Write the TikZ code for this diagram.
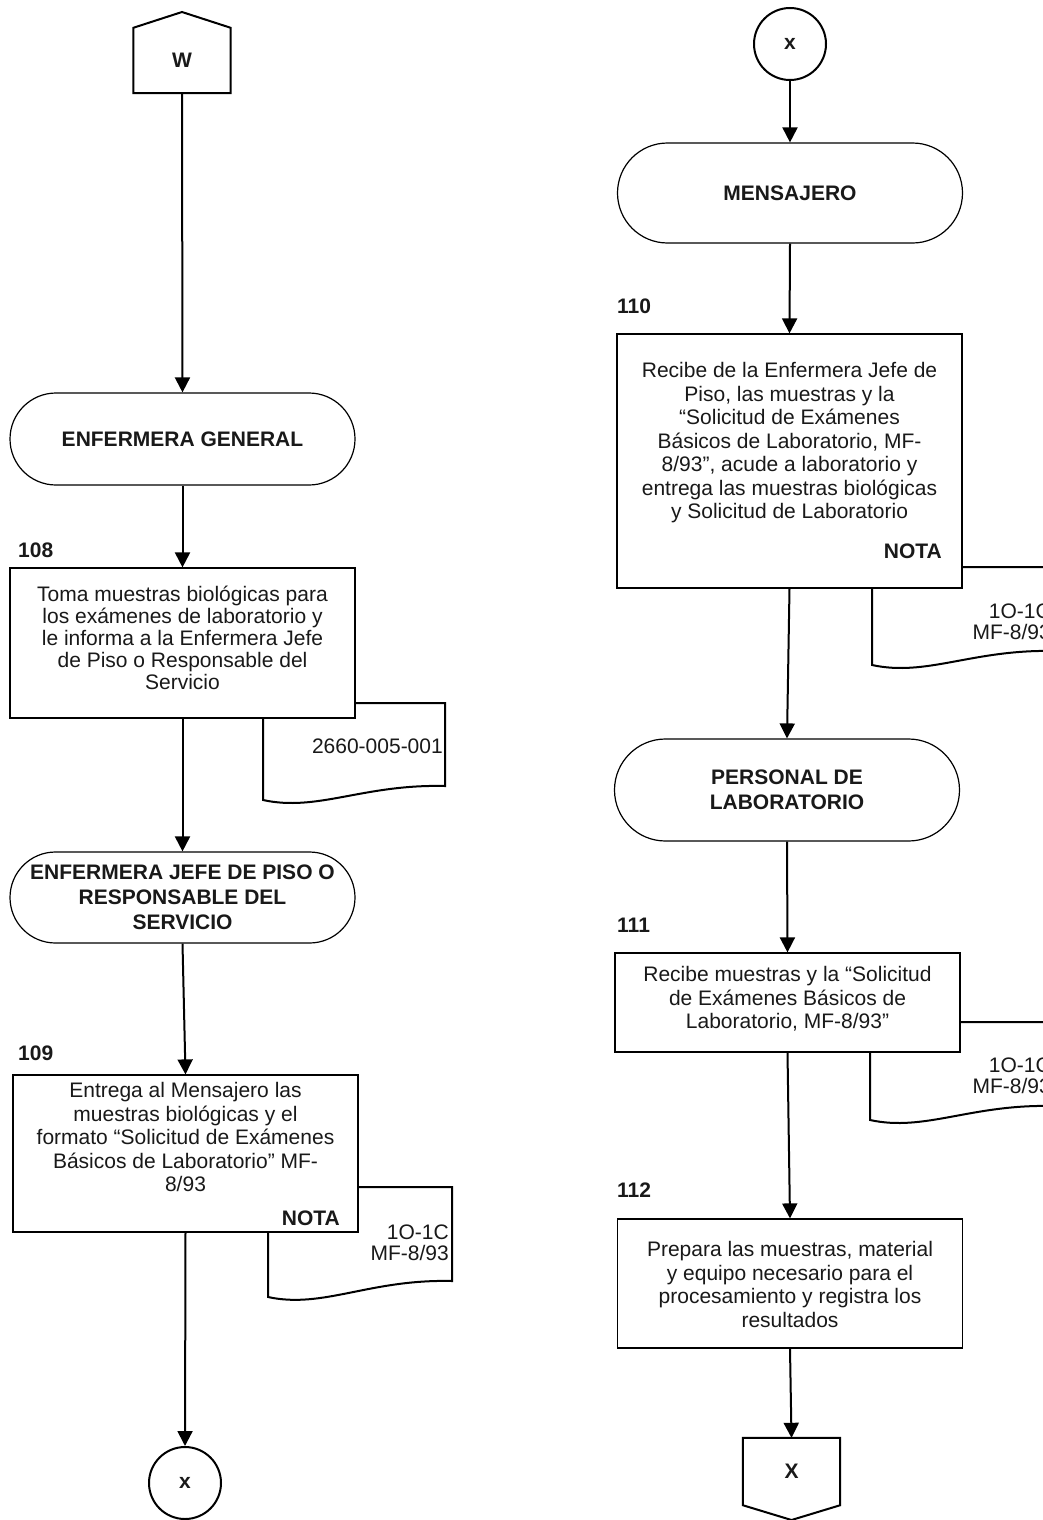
\documentclass[tikz,border=0pt]{standalone}
\usepackage{fontspec}
\setmainfont{Liberation Sans}
\usetikzlibrary{arrows.meta}

% document symbol: left, top, right, bottom-left, bottom-right
\newcommand\docshape[5]{%
  \draw[docsym] (#1,#2) -- (#3,#2) -- (#3,#5)
    .. controls ({#1+0.55*(#3-#1)},{#5-2}) and ({#1+0.3*(#3-#1)},{#4+12}) .. (#1,#4) -- cycle;}

\begin{document}
\begin{tikzpicture}[x=1pt,y=-1pt,
  every node/.style={font=\fontsize{21}{23.5}\selectfont, text=black!90},
  procbox/.style={draw, line width=1.2pt, fill=white, minimum width=345pt, inner sep=0pt},
  term/.style={draw, line width=1.2pt, fill=white, minimum width=345pt, align=center,
    font=\fontsize{21}{25}\selectfont\bfseries},
  conn/.style={draw, line width=2pt, circle, minimum size=72pt, inner sep=0pt,
    font=\fontsize{21}{24}\selectfont\bfseries},
  offpage/.style={minimum width=97pt, inner sep=0pt, font=\fontsize{21}{24}\selectfont\bfseries},
  flow/.style={line width=2pt, -{Triangle[width=15pt,length=15pt]}},
  docsym/.style={line width=2pt, fill=white},
  stepnum/.style={font=\fontsize{21}{24}\selectfont\bfseries, anchor=west, inner sep=0pt},
  body/.style={align=center, inner sep=0pt},
  tight/.style={font=\fontsize{21}{22}\selectfont},
  nota/.style={font=\fontsize{21}{24}\selectfont\bfseries, anchor=east, inner sep=0pt},
  doctext/.style={anchor=east, align=right, inner sep=0pt, font=\fontsize{21}{21.5}\selectfont},
]
\useasboundingbox (0,0) rectangle (1043,1520);

% ---------------- documents (behind the process boxes) ----------------
\docshape{263}{703}{445}{800}{786}
\docshape{268}{1187}{452}{1297}{1281}
\docshape{872}{567}{1055}{665}{651}
\docshape{870}{1022}{1053}{1120}{1106}

% ---------------- left column ----------------
\node[offpage, minimum height=65pt] (w) at (182,60.5) {W};
\draw[line width=2pt] (w.south west) -- (w.north west) -- (182,12) -- (w.north east) -- (w.south east) -- cycle;

\node[term, minimum height=92pt, rounded corners=46pt] (eg) at (182.5,439) {ENFERMERA GENERAL};

\node[stepnum] (n108) at (18,550) {108};
\node[procbox, minimum height=150pt] (b108) at (182.5,643) {};
\node[body, tight] (t108) at (182.5,638) {Toma muestras biológicas para\\los exámenes de laboratorio y\\le informa a la Enfermera Jefe\\de Piso o Responsable del\\Servicio};
\node[doctext] (d108) at (443,746) {2660-005-001};

\node[term, minimum height=91pt, rounded corners=45.5pt] (ej) at (182.5,897.5) {ENFERMERA JEFE DE PISO O\\RESPONSABLE DEL\\SERVICIO};

\node[stepnum] (n109) at (18,1053) {109};
\node[procbox, minimum height=157pt] (b109) at (185.5,1153.5) {};
\node[body] (t109) at (185.5,1137) {Entrega al Mensajero las\\muestras biológicas y el\\formato “Solicitud de Exámenes\\Básicos de Laboratorio” MF-\\8/93};
\node[nota] (nota109) at (340,1218) {NOTA};
\node[doctext] (d109) at (449,1243) {1O-1C\\MF-8/93};

\node[conn] (xb) at (185,1483) {x};

% ---------------- right column ----------------
\node[conn] (xt) at (790,44) {x};

\node[term, minimum height=100pt, rounded corners=50pt] (men) at (790,193) {MENSAJERO};

\node[stepnum] (n110) at (617,306) {110};
\node[procbox, minimum height=254pt] (b110) at (789.5,461) {};
\node[body] (t110) at (789.5,443) {Recibe de la Enfermera Jefe de\\Piso, las muestras y la\\“Solicitud de Exámenes\\Básicos de Laboratorio, MF-\\8/93”, acude a laboratorio y\\entrega las muestras biológicas\\y Solicitud de Laboratorio};
\node[nota] (nota110) at (942,551) {NOTA};
\node[doctext] (d110) at (1051,622) {1O-1C\\MF-8/93};

\node[term, minimum height=102pt, rounded corners=51pt] (pl) at (787,790) {PERSONAL DE\\LABORATORIO};

\node[stepnum] (n111) at (617,925) {111};
\node[procbox, minimum height=99pt] (b111) at (787.5,1002.5) {};
\node[body] (t111) at (787.5,999) {Recibe muestras y la “Solicitud\\de Exámenes Básicos de\\Laboratorio, MF-8/93”};
\node[doctext] (d111) at (1051,1076) {1O-1C\\MF-8/93};

\node[stepnum] (n112) at (617,1190) {112};
\node[procbox, minimum height=129pt] (b112) at (790,1283.5) {};
\node[body] (t112) at (790,1284.5) {Prepara las muestras, material\\y equipo necesario para el\\procesamiento y registra los\\resultados};

\node[offpage, minimum height=67pt] (xo) at (791.5,1471.5) {X};
\draw[line width=2pt] (xo.north west) -- (xo.north east) -- (xo.south east) -- (791.5,1520) -- (xo.south west) -- cycle;

% ---------------- connectors ----------------
\draw[flow] (w.south) -- (eg.north);
\draw[flow] (eg.south) -- (b108.north);
\draw[flow] (b108.south) -- (ej.north);
\draw[flow] (ej.south) -- (b109.north);
\draw[flow] (b109.south) -- (xb.north);

\draw[flow] (xt.south) -- (men.north);
\draw[flow] (men.south) -- (b110.north);
\draw[flow] (b110.south) -- (pl.north);
\draw[flow] (pl.south) -- (b111.north);
\draw[flow] (b111.south) -- (b112.north);
\draw[flow] (b112.south) -- (xo.north);
\end{tikzpicture}
\end{document}
